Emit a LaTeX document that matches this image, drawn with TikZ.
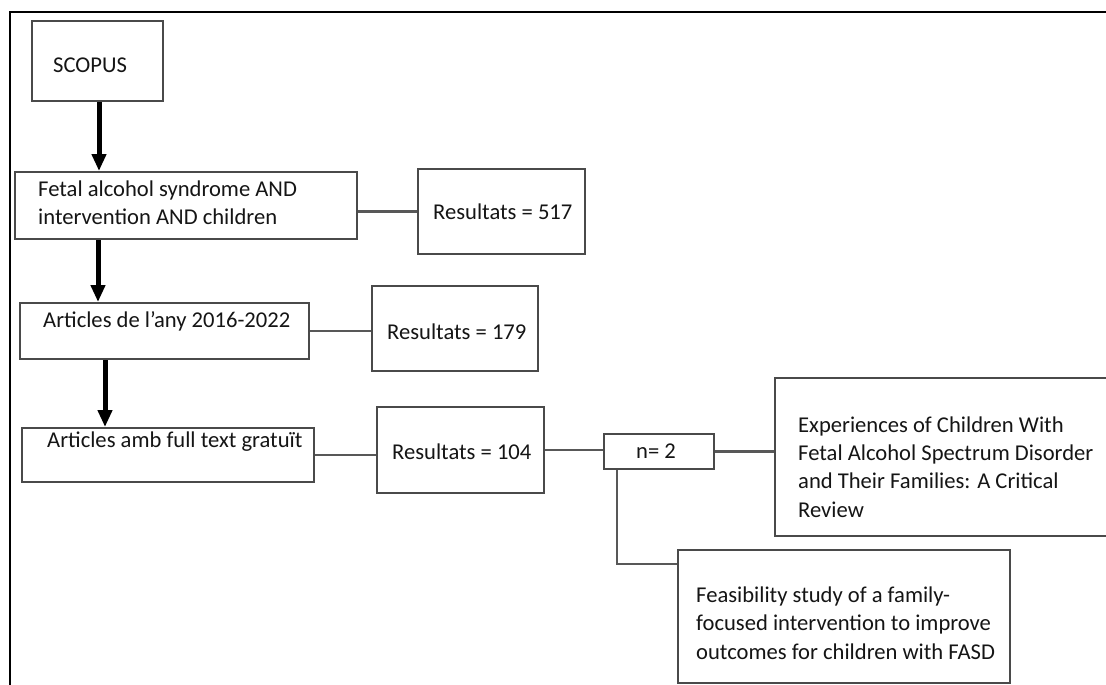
\documentclass[tikz,border=0pt]{standalone}
\usepackage{fontspec}
\setmainfont{Carlito}
\usetikzlibrary{arrows.meta,calc}
\definecolor{boxgray}{HTML}{4A4A4A}
\definecolor{linkgray}{HTML}{585858}
\definecolor{textcol}{HTML}{151515}
\begin{document}
\begin{tikzpicture}[x=1pt,y=-1pt,
  box/.style={draw=boxgray,line width=2pt,inner sep=0pt,fill=white},
  txt/.style={anchor=west,inner sep=0pt,align=left,
    font=\fontsize{22.6}{28.3}\selectfont,text=textcol},
  link/.style={draw=linkgray,line width=2.1pt},
  flow/.style={draw=black,line width=5pt,-{Triangle[width=14pt,length=17pt]}}]
\useasboundingbox (0,0) rectangle (1106,685);
\fill[white] (0,0) rectangle (1106,685);

% outer frame (top and left edges)
\draw[line width=1.2pt,black] (10,685) -- (10,12) -- (1106,12);

% boxes
\node[box,minimum width=131,minimum height=80] (scopus) at (97.5,61) {};
\node[box,minimum width=342,minimum height=67] (fetal) at (186,205.5) {};
\node[box,minimum width=167,minimum height=85] (r517) at (501.5,211.5) {};
\node[box,minimum width=289,minimum height=56] (any) at (164.5,331) {};
\node[box,minimum width=166,minimum height=85] (r179) at (455,328.5) {};
\node[box,minimum width=292,minimum height=54] (amb) at (168,455) {};
\node[box,minimum width=167,minimum height=86] (r104) at (460.5,450) {};
\node[box,minimum width=110,minimum height=35] (n2) at (659,451.5) {};
\node[box,minimum width=345,minimum height=158] (exp) at (947.5,457) {};
\node[box,minimum width=332,minimum height=133] (feas) at (844,616.5) {};

% texts
\node[txt] (tscopus) at (53,65) {SCOPUS};
\node[txt] (tfetal) at (38,203) {Fetal alcohol syndrome AND\\intervention AND children};
\node[txt] (t517) at (433,212) {Resultats = 517};
\node[txt] (tany) at (43,321) {Articles de l’any 2016-2022};
\node[txt] (t179) at (387,332) {Resultats = 179};
\node[txt] (tamb) at (47,442) {Articles amb full text gratuït};
\node[txt] (t104) at (392,452) {Resultats = 104};
\node[txt] (tn2) at (636,451) {n= 2};
\node[txt] (texp) at (798,467) {Experiences of Children With\\Fetal Alcohol Spectrum Disorder\\and Their Families: A Critical\\Review};
\node[txt] (tfeas) at (696,623) {Feasibility study of a family-\\focused intervention to improve\\outcomes for children with FASD};

% thick flow arrows
\coordinate (a1) at (99,0);
\coordinate (a2) at (98,0);
\coordinate (a3) at (105,0);
\draw[flow] (scopus.south -| a1) -- (fetal.north -| a1);
\draw[flow] (fetal.south -| a2) -- (any.north -| a2);
\draw[flow] (any.south -| a3) -- (amb.north -| a3);

% result links
\draw[link] (fetal.east |- r517.west) -- (r517.west);
\draw[link] (any.east) -- (any.east -| r179.west);
\draw[link] (amb.east) -- (amb.east -| r104.west);
\draw[link] (r104.east) -- (r104.east -| n2.west);
\draw[link] (n2.east) -- (n2.east -| exp.west);
\coordinate (tap) at (617,564);
\draw[link] (n2.south -| tap) |- (tap -| feas.west);
\end{tikzpicture}
\end{document}
